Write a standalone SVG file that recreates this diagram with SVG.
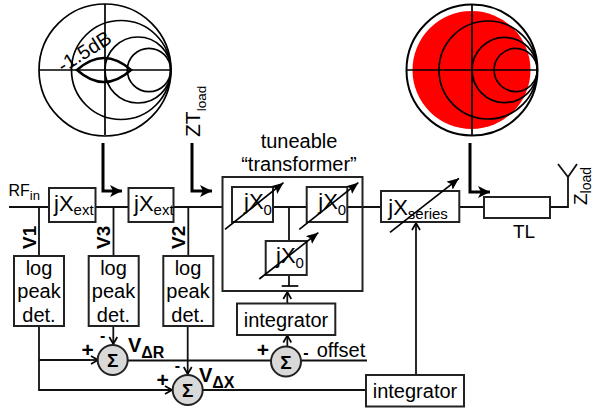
<svg xmlns="http://www.w3.org/2000/svg" width="593" height="411" viewBox="0 0 593 411">
<defs>
<marker id="a" markerUnits="userSpaceOnUse" markerWidth="14" markerHeight="12" refX="12" refY="6" orient="auto"><path d="M0 0L12 6L0 12L3 6Z" fill="#000"/></marker>
<marker id="t" markerUnits="userSpaceOnUse" markerWidth="14" markerHeight="12" refX="12" refY="5" orient="auto"><path d="M0 0L12 5L0 10L2.500 5Z" fill="#000"/></marker>
<marker id="s" markerUnits="userSpaceOnUse" markerWidth="10" markerHeight="10" refX="8" refY="5" orient="auto"><path d="M1 1L8 5L1 9" fill="none" stroke="#000" stroke-width="1.7"/></marker>
</defs>
<style>
text{font-family:"Liberation Sans",Arial,sans-serif;fill:#000}
.b{fill:#fff;stroke:#222;stroke-width:2}
.w{fill:none;stroke:#111;stroke-width:1.8}
.t{fill:none;stroke:#000;stroke-width:3}
.c{fill:none;stroke:#000;stroke-width:1.7}
.tune{fill:none;stroke:#000;stroke-width:1.7;marker-end:url(#t)}
.sum{fill:#d9d9d9;stroke:#222;stroke-width:2}
.sg{font-size:19px;font-weight:700;text-anchor:middle}
.bl{font-size:20px;text-anchor:middle}
.m{font-size:21px;font-weight:700;text-anchor:middle}
.n{font-size:16px;font-weight:700;text-anchor:middle}
.jx{font-size:22px}
.sb{font-size:15px}
.vv{font-size:20px;font-weight:700}
.vs{font-size:16px;font-weight:700}
.vl{font-size:19px;font-weight:700}
</style>
<g id="connectors">
<path class="w" d="M9 207H49M95 207H129M173 207H222M273 207H307M347 207H381M459 207H484M550 207H568V177"/>
<path class="w" d="M39 207V256M113.500 207V256M188.300 207V256M289 207V241M289 275V286"/>
<path class="w" d="M39 326V390H173M39 360H90"/>
<path class="w" d="M90 360H98" marker-end="url(#s)"/>
<path class="w" d="M165 390H172" marker-end="url(#s)"/>
<path class="w" d="M113.300 326V344" marker-end="url(#s)"/>
<path class="w" d="M187.700 326V374" marker-end="url(#s)"/>
<path class="w" d="M128 360.500H271M301 360.500H367M203 390H366"/>
<path class="w" d="M287.300 346V335.500" marker-end="url(#s)"/>
<path class="w" d="M287.300 303V292" marker-end="url(#s)"/>
<path class="w" d="M416 375V223" marker-end="url(#s)"/>
<path class="t" d="M103 143V191H122" marker-end="url(#a)"/>
<path class="t" d="M192 143V191H212" marker-end="url(#a)"/>
<path class="t" d="M470 143V192H490" marker-end="url(#a)"/>
<path class="c" d="M281.700 286H298.300"/>
</g>
<g id="smith-left">
<circle class="c" cx="105" cy="70" r="66"/>
<circle class="c" cx="121" cy="70" r="49.500"/>
<circle class="c" cx="138" cy="70" r="33"/>
<circle class="c" cx="149" cy="70" r="21.700"/>
<path class="c" d="M39 70H171M105 4V135"/>
<path d="M77 70Q104 46 131 70Q104 94 77 70Z" fill="none" stroke="#000" stroke-width="2.500"/>
<text font-size="20" transform="translate(63 73) rotate(-32)">-1.5dB</text>
</g>
<g id="smith-right">
<circle cx="472" cy="70" r="65.500" fill="#fff" stroke="#000" stroke-width="2"/>
<circle cx="471.500" cy="70" r="59" fill="#f00"/>
<circle class="c" cx="488" cy="70" r="49"/>
<circle class="c" cx="504.700" cy="70" r="32.600"/>
<circle class="c" cx="515.700" cy="70" r="21.600"/>
<path class="c" d="M406 70H537M472 4V135"/>
</g>
<g id="label-rf"><text x="8.500" y="196" font-size="16">RF<tspan font-size="13" dy="4">in</tspan></text></g>
<g id="jxext1"><rect class="b" x="49" y="188" width="46.500" height="34"/><text x="54" y="211" class="jx">jX<tspan class="sb" dy="4">ext</tspan></text></g>
<g id="jxext2"><rect class="b" x="128.500" y="188" width="45" height="34"/><text x="134" y="211" class="jx">jX<tspan class="sb" dy="4">ext</tspan></text></g>
<g id="label-zt"><text transform="translate(200 137) rotate(-90)" font-size="21">ZT<tspan font-size="13.500" dy="6">load</tspan></text></g>
<g id="label-tuneable"><text x="299" y="148" class="bl">tuneable</text><text x="299" y="171" class="bl">“transformer”</text></g>
<g id="transformer"><rect x="222.500" y="177" width="140" height="114" fill="none" stroke="#222" stroke-width="2"/></g>
<g id="x0a"><rect class="b" x="232" y="187" width="41" height="35"/><text x="244" y="209" class="jx">jX<tspan class="sb" dy="6">0</tspan></text><path class="tune" d="M225 229.300L283.500 182.700"/></g>
<g id="x0b"><rect class="b" x="306.700" y="187" width="40.600" height="35"/><text x="318.300" y="209" class="jx">jX<tspan class="sb" dy="6">0</tspan></text><path class="tune" d="M299.300 229.300L358.300 182.700"/></g>
<g id="x0c"><rect class="b" x="265.700" y="241" width="41" height="34"/><text x="276" y="263" class="jx">jX<tspan class="sb" dy="5">0</tspan></text><path class="tune" d="M259.300 279L318.300 232.700"/></g>
<g id="jxseries"><rect class="b" x="381" y="191" width="78.300" height="31"/><text x="388.300" y="215" class="jx">jX<tspan class="sb" dy="4">series</tspan></text><path class="tune" d="M390 232.300L459 178.300"/></g>
<g id="tl"><rect class="b" x="484" y="197" width="66" height="21"/><text x="513" y="238" font-size="19">TL</text></g>
<g id="antenna"><path class="w" d="M558 164L568 177L577 164"/><text transform="translate(587 205) rotate(-90)" font-size="19">Z<tspan font-size="14" dy="4">load</tspan></text></g>
<g id="det1"><rect class="b" x="14" y="256" width="50" height="70"/><text x="39" y="275" class="bl">log</text><text x="39" y="298" class="bl">peak</text><text x="39" y="322" class="bl">det.</text><text transform="translate(35.500 249) rotate(-90)" class="vl">V1</text></g>
<g id="det3"><rect class="b" x="88.700" y="256" width="50" height="70"/><text x="113.500" y="275" class="bl">log</text><text x="113.500" y="298" class="bl">peak</text><text x="113.500" y="322" class="bl">det.</text><text transform="translate(110 249) rotate(-90)" class="vl">V3</text></g>
<g id="det2"><rect class="b" x="163.300" y="256" width="50" height="70"/><text x="188" y="275" class="bl">log</text><text x="188" y="298" class="bl">peak</text><text x="188" y="322" class="bl">det.</text><text transform="translate(184.500 249) rotate(-90)" class="vl">V2</text></g>
<g id="sum1"><circle class="sum" cx="112.700" cy="360" r="15"/><text x="112.700" y="367" class="sg">Σ</text><text x="87.700" y="357" class="m">+</text><text x="102.700" y="341" class="n">-</text><text x="128" y="352" class="vv">V<tspan class="vs" dy="6">ΔR</tspan></text></g>
<g id="sum2"><circle class="sum" cx="187.700" cy="390" r="15"/><text x="187.700" y="397" class="sg">Σ</text><text x="162.700" y="387" class="m">+</text><text x="177.300" y="371" class="n">-</text><text x="199" y="382" class="vv">V<tspan class="vs" dy="6">ΔX</tspan></text></g>
<g id="sum3"><circle class="sum" cx="286" cy="361.500" r="15"/><text x="286" y="368.500" class="sg">Σ</text><text x="263" y="357" class="m">+</text><text x="306" y="357.500" class="n">-</text><text x="316.700" y="357" font-size="20">offset</text></g>
<g id="int1"><rect class="b" x="237" y="303.500" width="98.300" height="31.500"/><text x="286" y="326.500" class="bl">integrator</text></g>
<g id="int2"><rect class="b" x="366" y="375" width="98" height="31.500"/><text x="415" y="397.500" class="bl">integrator</text></g>
</svg>
